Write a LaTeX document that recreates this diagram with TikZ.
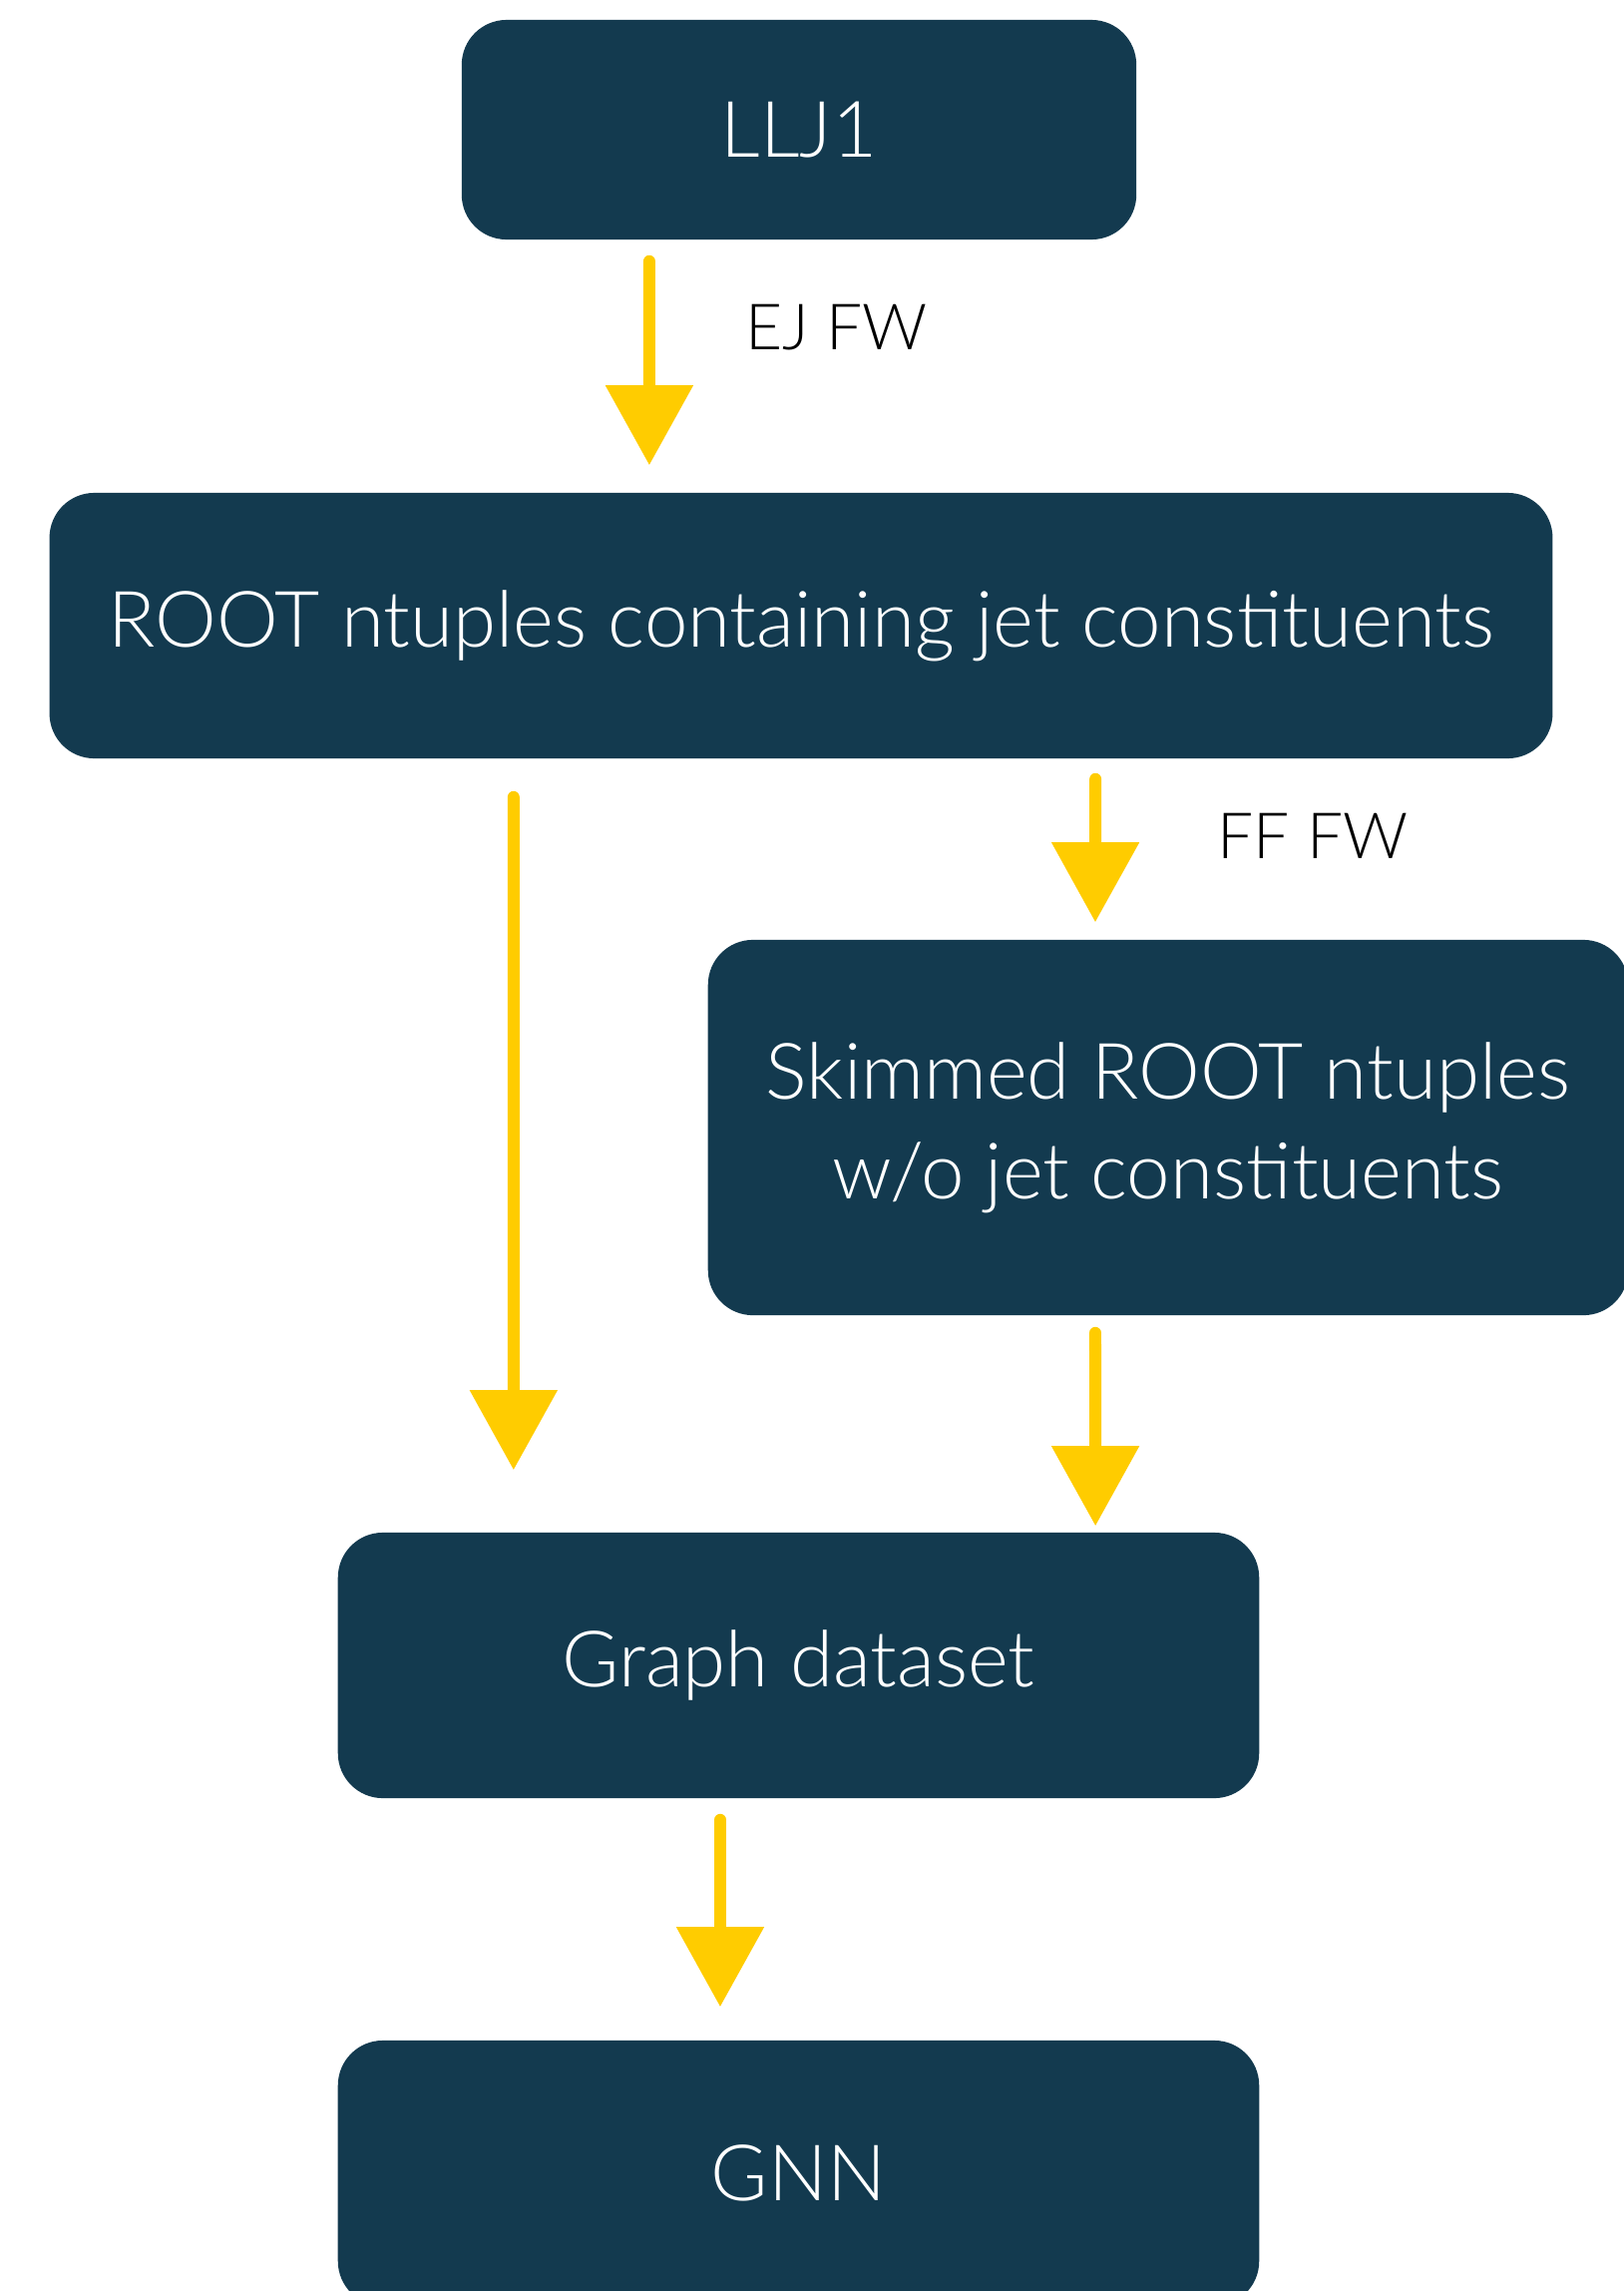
\documentclass[tikz,border=0pt]{standalone}
\usepackage{fontspec}
\setmainfont{Lato}[UprightFont=* Light]
\usetikzlibrary{positioning,arrows.meta}
\definecolor{boxblue}{HTML}{133A4F}
\definecolor{flowyellow}{HTML}{FFCC00}

\begin{document}
\begin{tikzpicture}[x=0.01cm, y=-0.01cm,
    box/.style = {fill=boxblue, text=white, rounded corners=0.45cm, inner sep=0pt,
                  align=center, font=\fontsize{22.2}{28.5}\selectfont},
    lbl/.style = {text=black, inner sep=0pt, anchor=west, font=\fontsize{18.2}{21}\selectfont},
    flow/.style = {draw=flowyellow, line width=0.12cm, line cap=round,
                   -{Triangle[width=0.85cm, length=0.8cm]}}
    ]
    \useasboundingbox (0,0) rectangle (1628,2296);

    \node[box, minimum width=6.76cm, minimum height=2.2cm] (llj) at (801,130) {LLJ1};
    \node[box, minimum width=15.06cm, minimum height=2.66cm] (root) at (803,627) {ROOT ntuples containing jet constituents};
    \node[box, minimum width=9.22cm, minimum height=3.76cm] (skim) at (1171,1130) {Skimmed ROOT ntuples\\w/o jet constituents};
    \node[box, minimum width=9.23cm, minimum height=2.66cm] (graph) at (800.5,1669) {Graph dataset};
    \node[box, minimum width=9.23cm, minimum height=2.66cm] (gnn) at (800.5,2178) {GNN};

    \draw[flow, shorten <=0.21cm, shorten >=0.27cm] ([xshift=-1.50cm]llj.south) -- ([xshift=-1.52cm]root.north);
    \draw[flow, shorten <=0.38cm, shorten >=0.62cm] ([xshift=-2.88cm]root.south) -- ([xshift=-2.855cm]graph.north);
    \draw[flow, shorten <=0.20cm, shorten >=0.17cm] ([xshift=2.95cm]root.south) -- ([xshift=-0.73cm]skim.north);
    \draw[flow, shorten <=0.17cm, shorten >=0.06cm] ([xshift=-0.73cm]skim.south) -- ([xshift=2.975cm]graph.north);
    \draw[flow, shorten <=0.21cm, shorten >=0.33cm] ([xshift=-0.785cm]graph.south) -- ([xshift=-0.785cm]gnn.north);

    \node[lbl] (ejfw) at (747,328) {EJ FW};
    \node[lbl] (fffw) at (1220,838) {FF FW};
\end{tikzpicture}
\end{document}
